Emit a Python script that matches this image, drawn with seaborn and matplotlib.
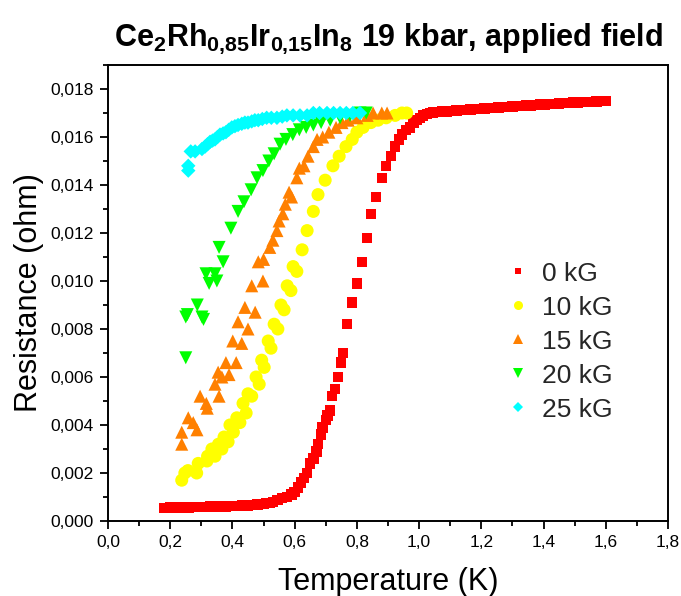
import numpy as np
import pandas as pd
import matplotlib
matplotlib.use("Agg")
import matplotlib.pyplot as plt
from matplotlib.ticker import MultipleLocator, FuncFormatter
from matplotlib.lines import Line2D
import seaborn as sns

# ---------------- data ----------------
fields = ["0 kG", "10 kG", "15 kG", "20 kG", "25 kG"]

T_0kG = [0.18, 0.19, 0.20, 0.21, 0.22, 0.23, 0.24, 0.25, 0.26, 0.27, 0.28, 0.29, 0.30, 0.31, 0.32, 0.33,
         0.34, 0.35, 0.36, 0.37, 0.38, 0.39, 0.40, 0.41, 0.42, 0.43, 0.44, 0.45, 0.46, 0.47, 0.48, 0.49, 0.50,
         0.51, 0.52, 0.53, 0.545, 0.56, 0.575, 0.59, 0.60, 0.61, 0.62, 0.63, 0.64, 0.65, 0.66, 0.67, 0.675,
         0.685, 0.69, 0.70, 0.705, 0.714, 0.72, 0.73, 0.74, 0.748, 0.756, 0.768, 0.785, 0.80, 0.817, 0.833,
         0.846, 0.862, 0.88, 0.894, 0.91, 0.923, 0.935, 0.945, 0.958, 0.97, 0.982, 0.993, 1.003, 1.013, 1.025,
         1.035, 1.045,
         1.06, 1.075, 1.09, 1.105, 1.12, 1.135, 1.15, 1.165, 1.18, 1.195, 1.21, 1.225, 1.24, 1.255, 1.27,
         1.285, 1.30, 1.315, 1.33, 1.345, 1.36, 1.375, 1.39, 1.405, 1.42, 1.435, 1.45, 1.465, 1.48, 1.495,
         1.51, 1.525, 1.54, 1.555, 1.57, 1.585, 1.60]
R_0kG = [0.00055, 0.00055, 0.00056, 0.00056, 0.00056, 0.00057, 0.00057, 0.00057, 0.00057, 0.00058, 0.00058,
         0.00058, 0.00059, 0.00059, 0.00059, 0.00060, 0.00060, 0.00060, 0.00061, 0.00061, 0.00061, 0.00062,
         0.00062, 0.00063, 0.00063, 0.00064, 0.00064, 0.00065, 0.00066, 0.00067, 0.00068, 0.00070, 0.00072,
         0.00074, 0.00076, 0.0008, 0.00088, 0.00095, 0.001, 0.0011, 0.0012, 0.0014, 0.0016, 0.0018, 0.002,
         0.0024, 0.0026, 0.0029, 0.0032, 0.0036, 0.0039, 0.0042, 0.0044, 0.0046, 0.0052, 0.0055, 0.006,
         0.0066, 0.007, 0.0082, 0.0091, 0.0099, 0.0108, 0.0118, 0.0128, 0.0135, 0.0143, 0.0148, 0.0152,
         0.0156, 0.0159, 0.0161, 0.0163, 0.0164, 0.0166, 0.0167, 0.0168, 0.0169, 0.01695, 0.0170, 0.01702,
         0.01704, 0.01706, 0.01707, 0.01709, 0.0171, 0.01712, 0.01713, 0.01714, 0.01716, 0.01717, 0.01719,
         0.0172, 0.01721, 0.01723, 0.01724, 0.01726, 0.01727, 0.01728, 0.0173, 0.01731, 0.01732, 0.01734,
         0.01735, 0.01736, 0.01737, 0.01738, 0.0174, 0.01741, 0.01742, 0.01743, 0.01744, 0.01745, 0.01746,
         0.01747, 0.01748, 0.01749, 0.0175]

T_10kG = [0.237, 0.247, 0.257, 0.285, 0.29, 0.318, 0.32, 0.334, 0.344, 0.355, 0.366, 0.373, 0.386, 0.392,
          0.403, 0.414, 0.424, 0.434, 0.444, 0.45, 0.462, 0.476, 0.486, 0.494, 0.502, 0.515, 0.524, 0.534,
          0.546, 0.556, 0.566, 0.576, 0.588, 0.595, 0.607, 0.624, 0.64, 0.66, 0.675, 0.698, 0.723, 0.743,
          0.765, 0.785, 0.80, 0.82, 0.845, 0.868, 0.894, 0.923, 0.945, 0.96]
R_10kG = [0.0017, 0.002, 0.0021, 0.002, 0.0024, 0.0025, 0.0027, 0.003, 0.0027, 0.0032, 0.003, 0.0035,
          0.0033, 0.004, 0.0037, 0.0043, 0.0041, 0.0049, 0.0045, 0.0053, 0.0052, 0.006, 0.0057, 0.0067,
          0.0064, 0.0075, 0.0072, 0.0082, 0.008, 0.009, 0.0088, 0.0098, 0.0096, 0.0106, 0.0104, 0.0113,
          0.0121, 0.0129, 0.0136, 0.0142, 0.0148, 0.0152, 0.0156, 0.0159, 0.0162, 0.0164, 0.0166, 0.0167,
          0.0168, 0.0169, 0.017, 0.017]

T_15kG = [0.237, 0.237, 0.258, 0.274, 0.286, 0.296, 0.316, 0.319, 0.344, 0.357, 0.354, 0.366, 0.379,
          0.389, 0.412, 0.401, 0.43, 0.418, 0.45, 0.44, 0.473, 0.462, 0.498, 0.483, 0.5, 0.52, 0.53, 0.543,
          0.55, 0.562, 0.57, 0.582, 0.59, 0.607, 0.615, 0.63, 0.643, 0.66, 0.672, 0.69, 0.71, 0.733, 0.752,
          0.772, 0.80, 0.833, 0.852, 0.88, 0.897]
R_15kG = [0.0032, 0.0037, 0.0043, 0.0041, 0.0038, 0.0052, 0.0049, 0.0047, 0.0057, 0.0052, 0.0062, 0.006,
          0.0066, 0.0061, 0.0066, 0.0075, 0.0074, 0.0083, 0.008, 0.0089, 0.0087, 0.0098, 0.01, 0.0108,
          0.0109, 0.0114, 0.0117, 0.0121, 0.0125, 0.0128, 0.0132, 0.0137, 0.0135, 0.0143, 0.0147, 0.0148,
          0.0152, 0.0156, 0.0159, 0.016, 0.0162, 0.0164, 0.0166, 0.0167, 0.0168, 0.0169, 0.017, 0.017, 0.017]

T_20kG = [0.25, 0.25, 0.255, 0.287, 0.302, 0.307, 0.315, 0.325, 0.344, 0.35, 0.37, 0.357, 0.395, 0.418,
          0.437, 0.46, 0.479, 0.498, 0.517, 0.534, 0.553, 0.572, 0.594, 0.615, 0.637, 0.66, 0.685, 0.714,
          0.746, 0.778, 0.81, 0.83]
R_20kG = [0.0068, 0.0085, 0.0086, 0.009, 0.0085, 0.0084, 0.0103, 0.0099, 0.0103, 0.01, 0.0108, 0.0114,
          0.0122, 0.0129, 0.0133, 0.0138, 0.0143, 0.0146, 0.015, 0.0153, 0.0157, 0.0159, 0.0161, 0.0163,
          0.0164, 0.0165, 0.0166, 0.0167, 0.0168, 0.0169, 0.017, 0.017]

T_25kG = [0.258, 0.258, 0.266, 0.28, 0.302, 0.312, 0.32, 0.328, 0.336, 0.344, 0.352, 0.36, 0.37, 0.379,
          0.388, 0.398, 0.408, 0.418, 0.43, 0.44, 0.45, 0.462, 0.472, 0.483, 0.496, 0.51, 0.525, 0.543, 0.56,
          0.575, 0.595, 0.617, 0.64, 0.66, 0.68, 0.704, 0.725, 0.746, 0.766, 0.787, 0.81]
R_25kG = [0.0146, 0.0148, 0.0154, 0.0154, 0.0155, 0.0156, 0.0157, 0.0158, 0.01585, 0.0159, 0.016, 0.0161,
          0.01615, 0.0162, 0.0163, 0.0164, 0.01645, 0.0165, 0.01655, 0.0166, 0.0166, 0.01665, 0.0167, 0.0167,
          0.01675, 0.0168, 0.0168, 0.0168, 0.01685, 0.0169, 0.0169, 0.0169, 0.0169, 0.017, 0.017, 0.017,
          0.017, 0.017, 0.017, 0.017, 0.017]

x_ticks = [0.0, 0.2, 0.4, 0.6, 0.8, 1.0, 1.2, 1.4, 1.6, 1.8]
y_ticks = [0.000, 0.002, 0.004, 0.006, 0.008, 0.010, 0.012, 0.014, 0.016, 0.018]

title_text = r"$\mathbf{Ce_{2}Rh_{0{,}85}Ir_{0{,}15}In_{8}}$ 19 kbar, applied field"
x_label = "Temperature (K)"
y_label = "Resistance (ohm)"

# ---------------- build table ----------------
series = {
    "0 kG": (T_0kG, R_0kG),
    "10 kG": (T_10kG, R_10kG),
    "15 kG": (T_15kG, R_15kG),
    "20 kG": (T_20kG, R_20kG),
    "25 kG": (T_25kG, R_25kG),
}
frames = [pd.DataFrame({"T": t, "R": r, "field": k}) for k, (t, r) in series.items()]
df = pd.concat(frames, ignore_index=True)

colors = {"0 kG": "#FF0000", "10 kG": "#FFFF00", "15 kG": "#FF8000", "20 kG": "#00FF00", "25 kG": "#00FFFF"}
markers = {"0 kG": "s", "10 kG": "o", "15 kG": "^", "20 kG": "v", "25 kG": "D"}
sizes = {"0 kG": 56, "10 kG": 88, "15 kG": 88, "20 kG": 88, "25 kG": 54}
leg_sizes = {"0 kG": 5, "10 kG": 6.5, "15 kG": 6.5, "20 kG": 6.5, "25 kG": 5}

# ---------------- style ----------------
sns.set_style("ticks")
plt.rcParams["font.family"] = ["Liberation Sans", "DejaVu Sans"]
plt.rcParams["mathtext.fontset"] = "custom"
plt.rcParams["mathtext.rm"] = "Liberation Sans"
plt.rcParams["mathtext.bf"] = "Liberation Sans:bold"

fig = plt.figure(figsize=(6.81, 5.96), dpi=100)
ax = fig.add_axes([108 / 681, 75 / 596, 560 / 681, 456 / 596])

for f in fields:
    sns.scatterplot(data=df[df["field"] == f], x="T", y="R", color=colors[f], marker=markers[f],
                    s=sizes[f], edgecolor="none", linewidth=0, ax=ax, legend=False)

ax.set_xlim(0, 1.8)
ax.set_ylim(0, 0.019)
ax.set_xticks(x_ticks)
ax.set_yticks(y_ticks)
ax.xaxis.set_minor_locator(MultipleLocator(0.1))
ax.yaxis.set_minor_locator(MultipleLocator(0.001))
ax.xaxis.set_major_formatter(FuncFormatter(lambda v, p: f"{v:.1f}".replace(".", ",")))
ax.yaxis.set_major_formatter(FuncFormatter(lambda v, p: f"{v:.3f}".replace(".", ",")))
ax.tick_params(axis="both", which="major", direction="out", length=6, width=1.3, color="black",
               labelsize=12.5, labelcolor="black", pad=4)
ax.tick_params(axis="both", which="minor", direction="out", length=3.5, width=1.3, color="black")
for sp in ax.spines.values():
    sp.set_visible(True)
    sp.set_color("black")
    sp.set_linewidth(1.4)

ax.set_xlabel(x_label, fontsize=22, labelpad=12, color="black")
ax.set_ylabel(y_label, fontsize=22, labelpad=5, color="black")
ax.set_title(title_text, fontsize=22, fontweight="bold", pad=14, color="black")

handles = [Line2D([0], [0], marker=markers[f], linestyle="none", color=colors[f], markeredgewidth=0,
                  markersize=leg_sizes[f]) for f in fields]
leg = ax.legend(handles, fields, loc="upper left", bbox_to_anchor=(0.69, 0.592), frameon=False,
                prop={"size": 19}, handlelength=1.0, handletextpad=0.42,
                labelspacing=0.38, borderaxespad=0)

fig.savefig("out.png", dpi=100)
